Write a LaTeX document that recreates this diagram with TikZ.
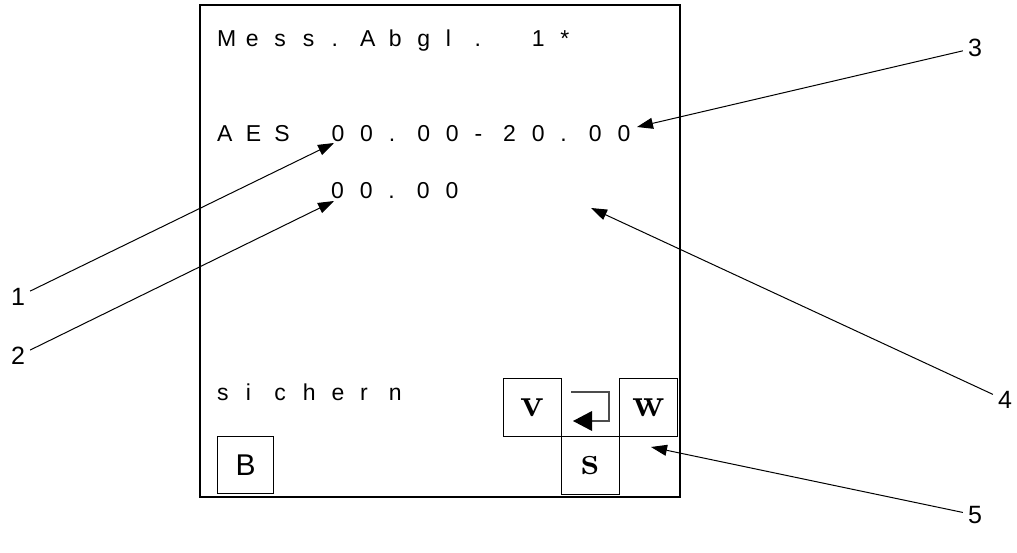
\documentclass[tikz,border=0pt]{standalone}
\usepackage{fontspec}
\newfontfamily\arial{Liberation Sans}
\usetikzlibrary{arrows.meta}
\newlength\cellw
\setlength\cellw{28.6pt}
\newcommand\cellrow[1]{\cellrowi#1\relax}
\def\cellrowi#1{\ifx#1\relax\else\makebox[\cellw][l]{#1}\expandafter\cellrowi\fi}
\tikzset{
  lcd/.style={anchor=base west, inner sep=0pt, font=\arial\fontsize{23}{27}\selectfont},
  lbl/.style={inner sep=5pt, font=\arial\fontsize{25}{29}\selectfont},
  keybox/.style={draw, line width=1.3pt, minimum width=58pt, minimum height=58pt, inner sep=0pt, anchor=north west, font=\bfseries\fontsize{40}{42}\selectfont},
  callout/.style={line width=1pt, -{Triangle[length=16pt,width=11pt]}},
}
\begin{document}
\begin{tikzpicture}[x=1pt,y=-1pt]
\useasboundingbox (0,0) rectangle (1017,553);
% main frame
\draw[line width=1.5pt] (200,5) rectangle (680,497);
% LCD rows
\node[lcd] (r1) at (217,47) {\cellrow{Mess.Abgl.~1*}};
\node[lcd] (r2) at (217,142) {\cellrow{AES~00.00-20.00}};
\node[lcd] (r3) at (331,199) {\cellrow{00.00}};
\node[lcd] (r4) at (217,400) {\cellrow{sichern}};
% B key
\node[draw, line width=1.3pt, minimum width=56pt, minimum height=57pt, inner sep=0pt, anchor=north west,
      font=\arial\fontsize{30}{32}\selectfont] (kB) at (217,436) {B};
% keys V, return, W, S
\node[keybox] (kV) at (503,378) {v};
\node[keybox, draw=none] (kR) at (561,378) {};
\node[keybox] (kW) at (619,378) {w};
\node[keybox] (kS) at (561,436) {s};
\coordinate (rs) at (571,392);
\coordinate (rc) at (609,421);
\coordinate (rt) at (573,421);
\draw[gray!60!black, line width=1.3pt] (rs) -| (rc) -- (592,421);
\fill (rt) -- (592,411) -- (592,431) -- cycle;
% callout labels
\node[lbl] (l1) at (18,297) {1};
\node[lbl] (l2) at (18,356) {2};
\node[lbl] (l3) at (975,48) {3};
\node[lbl] (l4) at (1005,400) {4};
\node[lbl] (l5) at (975,515) {5};
\coordinate (t1) at (334,143);
\coordinate (t2) at (334,201);
\coordinate (t3) at (637,127);
\coordinate (t4) at (591,208);
\coordinate (t5) at (651,447);
\draw[callout] (l1) -- (t1);
\draw[callout] (l2) -- (t2);
\draw[callout] (l3) -- (t3);
\draw[callout] (l4) -- (t4);
\draw[callout] (l5) -- (t5);
\end{tikzpicture}
\end{document}
